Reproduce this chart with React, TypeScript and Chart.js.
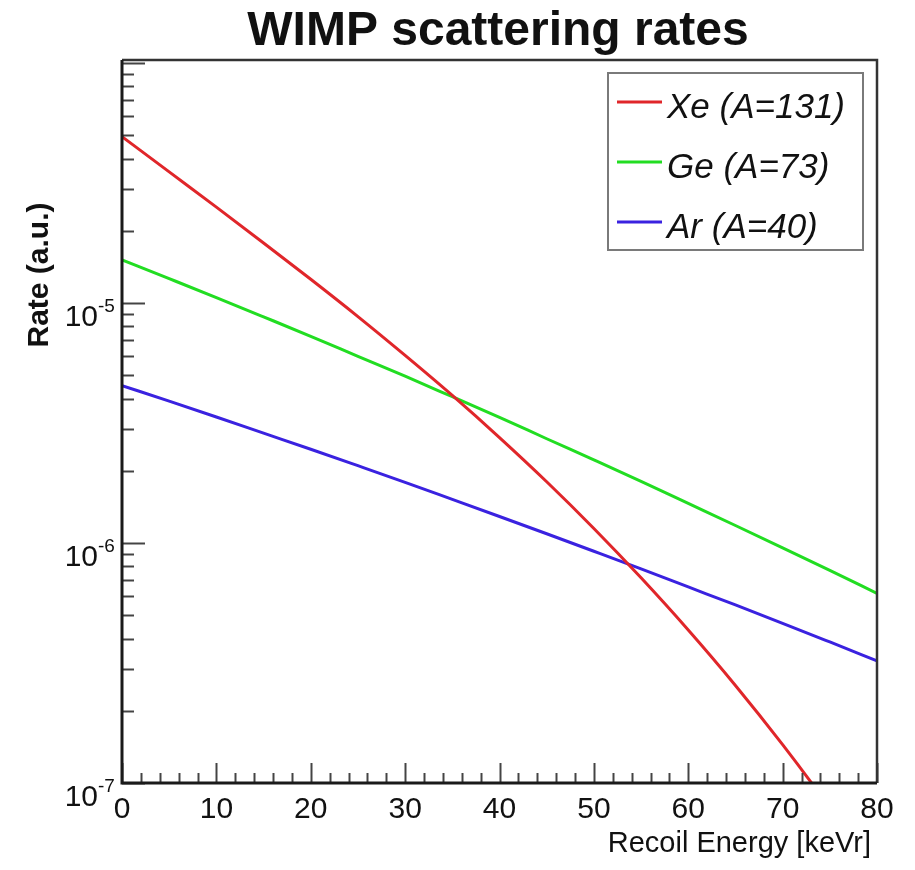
import React, { useEffect, useRef } from "react";
import { Chart, registerables } from "chart.js";

Chart.register(...registerables);

const energies = [0, 5, 10, 15, 20, 25, 30, 35, 40, 45, 50, 55, 60, 65, 70, 75, 80];
const xeRate = [4.94e-5, 3.52e-5, 2.51e-5, 1.78e-5, 1.256e-5, 8.78e-6, 6.05e-6, 4.12e-6, 2.75e-6, 1.8e-6, 1.15e-6, 7.16e-7, 4.34e-7, 2.55e-7, 1.444e-7, 7.88e-8, 4.14e-8];
const geRate = [1.514e-5, 1.264e-5, 1.054e-5, 8.76e-6, 7.27e-6, 6.0e-6, 4.955e-6, 4.07e-6, 3.34e-6, 2.72e-6, 2.22e-6, 1.807e-6, 1.462e-6, 1.183e-6, 9.55e-7, 7.69e-7, 6.17e-7];
const arRate = [4.53e-6, 3.9e-6, 3.35e-6, 2.87e-6, 2.46e-6, 2.1e-6, 1.79e-6, 1.52e-6, 1.29e-6, 1.093e-6, 9.24e-7, 7.8e-7, 6.56e-7, 5.52e-7, 4.63e-7, 3.87e-7, 3.23e-7];

const seriesLabels = ["Xe (A=131)", "Ge (A=73)", "Ar (A=40)"];
const seriesColors = ["#e0262a", "#22dd22", "#3a22e0"];

const xTickValues = [0, 10, 20, 30, 40, 50, 60, 70, 80];
const xTickLabels = ["0", "10", "20", "30", "40", "50", "60", "70", "80"];
const yTickValues = [1e-7, 1e-6, 1e-5];
const yTickExponents = ["-7", "-6", "-5"];

const chartTitle = "WIMP scattering rates";
const xTitle = "Recoil Energy [keVr]";
const yTitle = "Rate (a.u.)";

const FONT = '"Liberation Sans", Arial, Helvetica, sans-serif';

const decorPlugin = {
  id: "decor",
  afterDraw(chart: any) {
    const ctx = chart.ctx;
    const xs = chart.scales.x;
    const ys = chart.scales.y;
    const a = chart.chartArea;
    ctx.save();

    // ticks on left axis (inside)
    ctx.strokeStyle = "#444";
    ctx.lineWidth = 2;
    for (let d = -7; d <= -4; d++) {
      for (let m = 1; m <= 9; m++) {
        const v = m * Math.pow(10, d);
        if (v < ys.min * 0.999 || v > ys.max) continue;
        const py = Math.round(ys.getPixelForValue(v)) + 0.5;
        const len = m === 1 ? 23 : 12;
        ctx.beginPath();
        ctx.moveTo(a.left, py);
        ctx.lineTo(a.left + len, py);
        ctx.stroke();
      }
    }
    // ticks on bottom axis (inside)
    for (let v = 0; v <= 80; v += 2) {
      const px = Math.round(xs.getPixelForValue(v)) + 0.5;
      const len = v % 10 === 0 ? 20 : 10;
      ctx.beginPath();
      ctx.moveTo(px, a.bottom);
      ctx.lineTo(px, a.bottom - len);
      ctx.stroke();
    }

    // frame
    ctx.strokeStyle = "#333";
    ctx.lineWidth = 2.5;
    ctx.beginPath();
    ctx.moveTo(a.left, a.top);
    ctx.lineTo(a.right, a.top);
    ctx.lineTo(a.right, a.bottom);
    ctx.stroke();
    ctx.strokeStyle = "#1a1a1a";
    ctx.lineWidth = 3;
    ctx.beginPath();
    ctx.moveTo(a.left, a.top);
    ctx.lineTo(a.left, a.bottom);
    ctx.lineTo(a.right, a.bottom);
    ctx.stroke();

    ctx.fillStyle = "#111";
    // x tick labels
    ctx.font = `30px ${FONT}`;
    ctx.textAlign = "center";
    ctx.textBaseline = "alphabetic";
    xTickValues.forEach((v, i) => {
      ctx.fillText(xTickLabels[i], xs.getPixelForValue(v), a.bottom + 35);
    });

    // y tick labels with superscript
    yTickValues.forEach((v, i) => {
      const py = ys.getPixelForValue(v);
      ctx.font = `30px ${FONT}`;
      ctx.textAlign = "right";
      ctx.fillText("10", a.left - 24, py + 23);
      ctx.font = `19px ${FONT}`;
      ctx.textAlign = "left";
      ctx.fillText(yTickExponents[i], a.left - 24, py + 9);
    });

    // title
    ctx.font = `bold 48px ${FONT}`;
    ctx.textAlign = "center";
    ctx.fillText(chartTitle, 498, 45);

    // x axis title
    ctx.font = `29px ${FONT}`;
    ctx.textAlign = "right";
    ctx.fillText(xTitle, 871, 852);

    // y axis title
    ctx.save();
    ctx.translate(48, 275);
    ctx.rotate(-Math.PI / 2);
    ctx.font = `bold 30px ${FONT}`;
    ctx.textAlign = "center";
    ctx.fillText(yTitle, 0, 0);
    ctx.restore();

    // legend
    const lx = 608, ly = 73, lw = 255, lh = 177;
    ctx.strokeStyle = "#7a7a7a";
    ctx.lineWidth = 2;
    ctx.strokeRect(lx, ly, lw, lh);
    chart.data.datasets.forEach((ds: any, i: number) => {
      const cy = 102 + i * 60;
      ctx.strokeStyle = ds.borderColor;
      ctx.lineWidth = 3;
      ctx.beginPath();
      ctx.moveTo(617, cy);
      ctx.lineTo(662, cy);
      ctx.stroke();
      ctx.fillStyle = "#111";
      ctx.font = `italic 35px ${FONT}`;
      ctx.textAlign = "left";
      ctx.textBaseline = "alphabetic";
      ctx.fillText(ds.label, 667, cy + 16);
    });

    ctx.restore();
  },
};

export default function App() {
  const canvasRef = useRef<HTMLCanvasElement | null>(null);

  useEffect(() => {
    if (!canvasRef.current) return;
    const mk = (vals: number[]) => energies.map((x, i) => ({ x, y: vals[i] }));
    const common = { borderWidth: 3, pointRadius: 0, cubicInterpolationMode: "monotone", fill: false };
    const chart = new Chart(canvasRef.current, {
      type: "line",
      data: {
        datasets: [
          { label: seriesLabels[0], data: mk(xeRate), borderColor: seriesColors[0], ...common },
          { label: seriesLabels[1], data: mk(geRate), borderColor: seriesColors[1], ...common },
          { label: seriesLabels[2], data: mk(arRate), borderColor: seriesColors[2], ...common },
        ],
      },
      options: {
        animation: false,
        responsive: false,
        devicePixelRatio: 1,
        layout: { padding: { left: 122, top: 60, right: 38, bottom: 87 } },
        scales: {
          x: { type: "linear", min: 0, max: 80, display: false },
          y: { type: "logarithmic", min: 1e-7, max: 1.03e-4, display: false },
        },
        plugins: { legend: { display: false }, tooltip: { enabled: false } },
      },
      plugins: [decorPlugin],
    } as any);
    return () => chart.destroy();
  }, []);

  return (
    <div style={{ position: "absolute", left: 0, top: 0, width: 915, height: 870, background: "#fff" }}>
      <canvas ref={canvasRef} width={915} height={870} style={{ display: "block" }} />
    </div>
  );
}
